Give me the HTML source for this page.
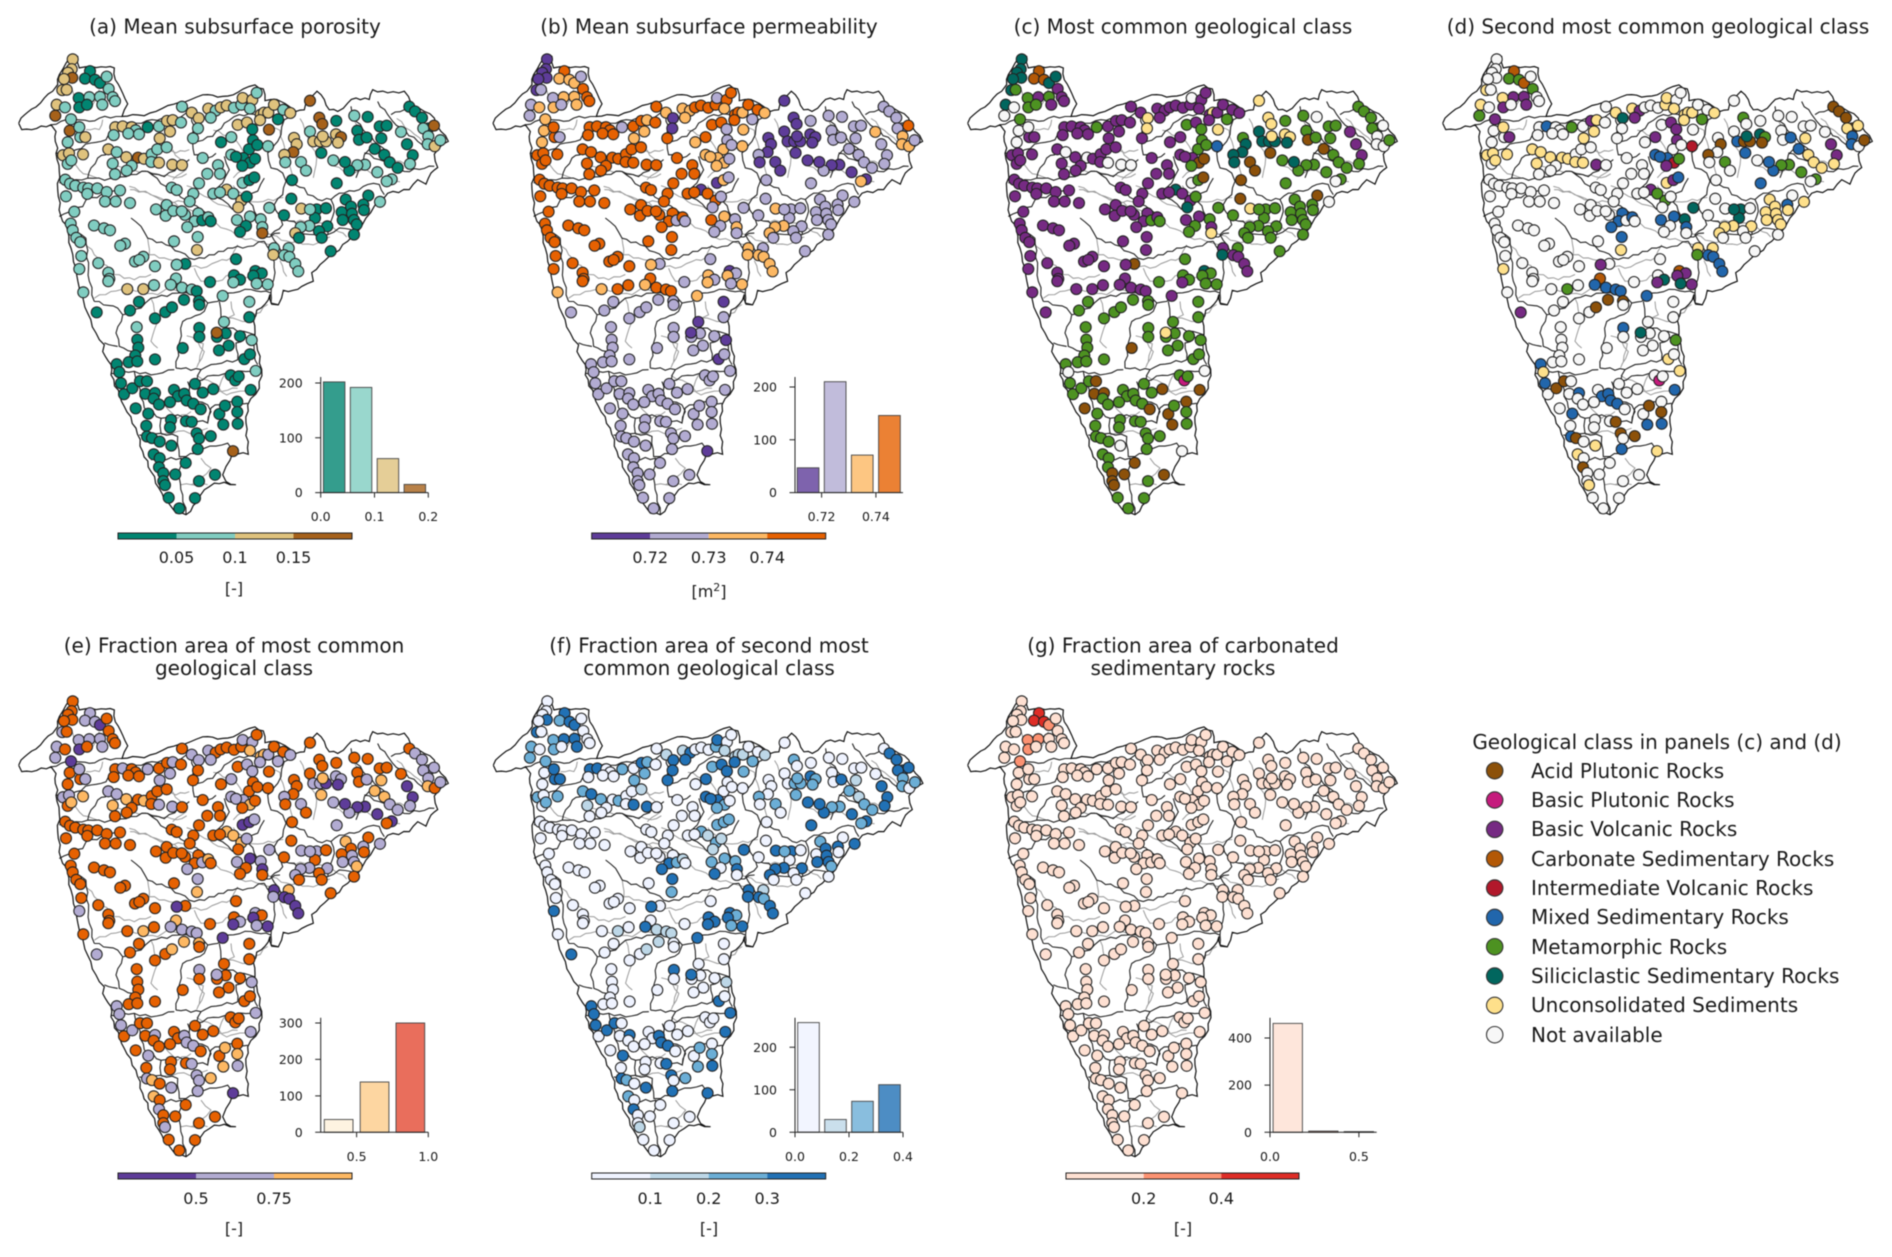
<!DOCTYPE html>
<html lang="en">
<head>
<meta charset="utf-8">
<title>Subsurface properties and geological classes of catchments</title>
<style>
html,body{margin:0;padding:0;background:#fff;}
svg{display:block;font-family:"DejaVu Sans","Liberation Sans",sans-serif;fill:#1a1a1a;filter:blur(0.4px);}
.title{font-size:20px;text-anchor:middle;}
.unit{font-size:16px;text-anchor:middle;}
.legend-text{font-size:20px;}
</style>
</head>
<body>
<svg id="figure" xmlns="http://www.w3.org/2000/svg" width="1892" height="1257" viewBox="0 0 1892 1257">
<rect x="0" y="0" width="1892" height="1257" fill="#ffffff"/>
<g id="panels"></g>
<text class="title" x="235" y="33.5">(a) Mean subsurface porosity</text>
<text class="title" x="709" y="33.5">(b) Mean subsurface permeability</text>
<text class="title" x="1183" y="33.5">(c) Most common geological class</text>
<text class="title" x="1658" y="33.5">(d) Second most common geological class</text>
<text class="title" x="234" y="652.5">(e) Fraction area of most common</text>
<text class="title" x="234" y="675">geological class</text>
<text class="title" x="709" y="652.5">(f) Fraction area of second most</text>
<text class="title" x="709" y="675">common geological class</text>
<text class="title" x="1183" y="652.5">(g) Fraction area of carbonated</text>
<text class="title" x="1183" y="675">sedimentary rocks</text>
<text class="unit" x="234" y="594">[-]</text>
<text class="unit" x="709" y="597">[m<tspan dy="-6" font-size="11">2</tspan><tspan dy="6">]</tspan></text>
<text class="unit" x="234" y="1234">[-]</text>
<text class="unit" x="709" y="1234">[-]</text>
<text class="unit" x="1183" y="1234">[-]</text>
<g>
<text class="legend-text" x="1657" y="749" text-anchor="middle">Geological class in panels (c) and (d)</text>
<text class="legend-text" x="1531" y="778">Acid Plutonic Rocks</text>
<text class="legend-text" x="1531" y="807">Basic Plutonic Rocks</text>
<text class="legend-text" x="1531" y="836">Basic Volcanic Rocks</text>
<text class="legend-text" x="1531" y="866">Carbonate Sedimentary Rocks</text>
<text class="legend-text" x="1531" y="895">Intermediate Volcanic Rocks</text>
<text class="legend-text" x="1531" y="924">Mixed Sedimentary Rocks</text>
<text class="legend-text" x="1531" y="954">Metamorphic Rocks</text>
<text class="legend-text" x="1531" y="983">Siliciclastic Sedimentary Rocks</text>
<text class="legend-text" x="1531" y="1012">Unconsolidated Sediments</text>
<text class="legend-text" x="1531" y="1042">Not available</text>
<circle cx="1494.7" cy="770.7" r="8.2" fill="#8c510a" stroke="#333" stroke-width="1.1"/>
<circle cx="1494.7" cy="800" r="8.2" fill="#c51b7d" stroke="#333" stroke-width="1.1"/>
<circle cx="1494.7" cy="829.4" r="8.2" fill="#762a83" stroke="#333" stroke-width="1.1"/>
<circle cx="1494.7" cy="858.7" r="8.2" fill="#b35806" stroke="#333" stroke-width="1.1"/>
<circle cx="1494.7" cy="888" r="8.2" fill="#b2182b" stroke="#333" stroke-width="1.1"/>
<circle cx="1494.7" cy="917.4" r="8.2" fill="#2166ac" stroke="#333" stroke-width="1.1"/>
<circle cx="1494.7" cy="946.7" r="8.2" fill="#4d9221" stroke="#333" stroke-width="1.1"/>
<circle cx="1494.7" cy="976" r="8.2" fill="#01665e" stroke="#333" stroke-width="1.1"/>
<circle cx="1494.7" cy="1005.4" r="8.2" fill="#fee08b" stroke="#333" stroke-width="1.1"/>
<circle cx="1494.7" cy="1034.7" r="8.2" fill="#f7f7f7" stroke="#333" stroke-width="1.1"/>
</g>
</svg>
<script>
// Station locations in map grid units (east, south)
const stationEast=[218,215,204,217,192,270,255,285,300,320,
326,187,200,236,268,300,338,345,170,195,
238,261,307,166,213,209,241,256,203,238,
189,207,249,203,214,346,368,395,407,385,
417,341,443,477,501,518,510,479,543,546,
575,596,594,579,625,647,632,662,680,702,
724,728,757,770,750,713,741,757,782,792,
805,780,822,850,871,834,807,759,747,772,
804,663,694,730,694,708,750,765,727,325,
350,338,379,414,395,380,345,432,455,472,
500,454,477,517,546,608,654,622,660,597,
680,640,660,700,724,715,740,728,748,763,
515,530,580,569,196,210,226,198,250,265,
262,292,320,360,315,347,390,223,212,218,
229,241,282,312,330,375,361,244,295,238,
325,328,325,250,382,430,405,430,418,465,
462,468,500,497,520,555,545,595,584,562,
607,625,632,593,522,591,711,750,738,720,
782,787,787,808,852,874,876,930,958,967,
1009,1063,1103,1072,1077,1100,1139,1160,1144,1203,
1124,1153,1221,1238,1169,1193,1230,1132,1095,1072,
1048,1035,1000,1010,1175,1160,1228,1245,1266,1285,
1302,1270,1285,1283,1304,1321,930,882,890,880,
853,856,903,918,940,960,978,968,964,1008,
1023,1014,904,950,945,978,930,1037,1105,1090,
1092,1140,1025,1053,1056,1028,1062,1070,1062,992,
982,957,965,928,902,886,897,822,866,820,
853,868,886,895,708,766,785,702,720,700,
760,770,803,630,556,530,528,512,546,575,
590,552,668,597,598,417,390,290,465,496,
516,748,748,672,410,412,415,406,386,412,
465,350,358,363,372,397,420,441,436,465,
461,477,407,445,439,441,456,479,514,522,
534,553,510,560,580,585,608,640,602,513,
510,558,575,590,597,593,632,658,675,712,
712,670,713,699,752,767,692,706,716,733,
750,755,720,686,657,677,651,650,598,598,
548,461,479,477,490,557,526,645,597,490,
495,506,585,538];
const stationSouth=[150,175,184,197,200,180,199,202,210,194,
225,228,227,248,246,245,246,256,265,272,
272,265,265,293,302,331,347,347,360,322,
393,388,391,415,406,322,320,322,330,338,
340,342,322,320,306,304,333,350,310,270,
285,299,325,350,275,280,298,272,267,273,
265,248,253,235,275,316,310,327,290,285,
285,304,265,278,286,302,328,355,378,367,
370,360,347,400,392,397,412,402,420,378,
385,414,398,399,420,432,441,402,390,378,
373,410,412,417,418,400,418,440,440,464,
480,490,487,490,508,525,498,463,456,449,
475,481,490,510,455,465,470,497,475,477,
491,477,486,482,510,510,514,536,566,583,
602,613,571,578,583,617,622,648,666,681,
690,706,712,740,732,732,662,650,658,674,
722,530,519,546,534,544,535,540,560,575,
558,550,560,600,611,633,557,548,572,587,
555,575,590,526,545,503,456,255,298,314,
306,293,296,331,354,348,320,318,350,334,
377,392,365,393,411,425,415,436,417,418,
432,410,406,464,454,459,270,282,298,325,
318,325,345,365,370,355,333,349,365,385,
392,411,410,432,358,358,358,345,387,340,
347,361,528,530,552,527,530,505,495,518,
532,511,537,523,541,557,557,568,594,636,
573,585,602,572,575,590,602,628,628,645,
646,650,668,687,656,686,692,697,708,715,
698,718,720,714,668,670,705,721,728,733,
737,759,749,762,772,764,786,791,806,790,
778,764,803,815,828,860,880,900,917,915,
910,922,942,970,998,983,965,965,997,995,
1009,1024,1034,1047,1078,1105,1109,1118,1128,987,
1003,997,1018,1014,1022,972,994,985,1036,1063,
1082,1066,1068,1097,1110,1137,1104,1048,1027,1017,
1043,1075,1073,1142,987,939,950,963,953,909,
897,861,851,875,887,844,853,842,830,853,
881,1150,1160,1183,1198,1172,1201,1202,1218,1218,
1228,1260,1261,1287];

// Colour-class index for each station, panel (a) to (g)
const porosityClass=[2,2,2,3,2,0,0,0,0,1,
1,2,2,0,1,1,1,1,2,1,
0,0,1,3,1,3,1,2,1,1,
2,2,2,1,1,2,2,2,1,1,
1,1,0,1,2,2,2,2,1,1,
2,2,1,1,2,1,1,2,2,1,
1,2,2,1,1,2,2,0,2,2,
2,2,2,1,2,0,3,0,0,0,
1,0,1,0,1,0,0,0,0,2,
1,1,2,3,1,1,1,2,1,1,
1,1,2,2,2,1,1,1,1,1,
2,1,1,1,2,2,0,1,0,0,
1,1,1,1,1,1,1,1,1,1,
1,1,1,1,1,1,1,1,1,1,
1,1,1,1,1,1,1,1,1,1,
1,1,1,1,2,2,1,1,1,1,
1,1,1,1,1,1,1,1,1,1,
0,1,0,1,1,2,1,1,0,0,
1,1,3,1,0,0,0,3,3,3,
0,1,0,0,0,0,0,0,0,1,
0,0,0,0,0,0,1,1,1,1,
0,0,1,0,1,1,0,0,0,0,
3,1,1,1,2,1,1,2,2,3,
2,1,1,1,2,2,2,2,0,2,
3,2,2,0,0,0,1,0,0,0,
0,1,0,0,0,0,0,0,0,0,
0,0,0,1,1,2,0,1,1,2,
1,1,1,1,0,0,0,0,0,1,
0,1,1,0,0,1,1,1,1,1,
0,0,1,0,0,0,0,0,0,0,
0,1,0,1,1,0,0,0,0,0,
0,0,0,0,0,0,0,0,0,0,
0,0,0,0,0,0,0,0,0,0,
0,0,0,0,0,0,0,0,0,0,
0,0,0,0,0,0,0,0,0,0,
0,0,0,3,0,1,0,0,0,0,
0,1,0,0,0,0,0,3,0,0,
0,0,0,0,0,0,0,0,0,0,
0,0,0,0];
const permeabilityClass=[0,0,0,0,0,3,2,2,2,1,
3,0,1,1,2,2,3,3,1,2,
2,1,2,1,2,2,3,1,2,3,
3,3,3,3,3,3,3,3,3,3,
3,3,1,3,3,2,2,2,3,3,
2,0,0,3,2,2,2,3,3,3,
3,1,3,3,2,3,3,1,3,3,
2,3,3,3,2,1,2,1,2,1,
2,2,3,2,2,2,2,1,2,3,
3,3,3,3,3,3,3,3,3,3,
3,3,3,3,3,3,3,3,3,3,
0,3,3,3,3,1,1,0,2,1,
3,3,3,3,3,3,3,3,3,3,
3,3,3,3,3,3,3,3,3,3,
3,3,3,3,3,3,3,3,3,3,
3,3,3,2,2,3,3,3,3,3,
3,3,3,3,3,3,3,3,3,3,
1,3,1,3,3,3,3,2,1,1,
1,2,1,1,1,1,1,0,0,0,
1,1,1,1,1,1,1,1,1,2,
1,1,1,1,1,1,1,0,0,0,
1,0,0,1,0,2,1,1,1,1,
3,1,2,2,2,1,0,0,0,0,
1,0,0,0,0,0,0,0,0,0,
0,0,2,1,1,1,1,1,1,1,
1,1,1,1,1,1,1,1,1,1,
1,1,1,2,2,2,1,2,1,2,
2,2,2,2,1,0,1,2,1,2,
2,1,2,1,1,2,3,2,3,3,
3,1,2,1,1,1,1,1,1,1,
1,0,1,0,1,1,1,1,1,1,
1,1,1,1,1,1,1,1,1,1,
1,1,1,1,1,1,1,1,1,1,
1,1,1,1,1,1,1,1,1,1,
1,1,1,1,1,1,1,1,1,1,
1,1,1,0,1,1,1,1,1,0,
1,0,1,1,1,1,1,0,1,1,
1,1,1,1,1,1,1,1,1,1,
1,1,1,1];
// Index into the legend: 0 acid plutonic, 1 basic plutonic, 2 basic volcanic, 3 carbonate,
// 4 intermediate volcanic, 5 mixed, 6 metamorphic, 7 siliciclastic, 8 unconsolidated, 9 not available
const mostCommonClass=[7,7,7,7,7,3,3,3,7,7,
2,7,6,6,2,6,2,2,7,9,
6,6,2,9,6,9,2,2,9,9,
2,2,2,2,2,2,2,2,2,2,
2,2,6,2,2,2,2,2,2,2,
2,8,8,2,2,2,2,2,2,2,
2,9,2,2,2,6,2,6,2,8,
2,2,2,2,2,6,8,6,6,6,
5,2,2,2,2,2,0,0,6,2,
9,2,2,9,2,2,2,2,2,2,
2,2,9,9,9,2,2,2,2,2,
7,2,2,2,2,7,6,9,6,0,
2,2,2,2,2,2,2,2,2,2,
2,2,2,2,2,2,2,2,2,2,
2,2,2,2,2,2,2,2,2,2,
2,2,2,2,2,2,2,2,2,2,
2,2,2,2,2,2,2,2,2,2,
6,2,6,2,2,2,2,2,6,6,
6,2,8,6,6,0,0,8,8,8,
6,6,9,6,0,6,6,6,6,2,
0,6,2,2,6,6,6,6,6,6,
6,7,6,6,6,9,6,6,6,6,
9,6,9,9,9,6,7,6,7,7,
7,7,0,0,7,7,7,8,0,8,
8,7,8,6,6,6,6,6,0,6,
6,9,6,6,6,6,6,6,6,6,
6,6,6,6,6,6,6,2,6,7,
2,2,2,2,6,7,6,6,6,2,
6,6,6,6,0,2,2,2,2,2,
2,6,2,6,6,6,6,2,6,6,
6,6,6,6,6,6,6,6,6,6,
6,6,9,6,6,6,6,0,0,0,
6,6,0,6,6,6,6,6,9,6,
6,6,6,6,6,6,6,0,0,6,
6,6,6,6,6,6,6,0,6,0,
6,0,6,9,0,9,6,1,6,6,
6,6,6,6,6,6,6,8,6,6,
0,6,6,6,0,0,0,0,6,0,
0,6,6,6];
const secondCommonClass=[9,9,9,9,9,3,6,6,3,9,
6,8,9,8,2,2,9,9,8,9,
2,9,2,6,2,9,9,2,9,8,
8,8,8,9,8,9,5,9,9,9,
9,9,6,9,2,8,8,8,9,9,
8,7,9,9,8,2,2,9,9,9,
8,8,9,9,8,9,2,2,8,8,
8,8,9,9,8,6,9,2,9,9,
4,9,2,5,5,5,4,6,2,8,
8,8,8,8,9,9,9,8,9,9,
9,8,8,2,9,9,9,9,9,9,
2,9,9,6,6,9,9,8,2,5,
9,9,9,9,9,9,9,9,9,9,
9,9,9,9,9,9,9,9,9,9,
9,9,9,9,9,9,9,9,9,8,
9,9,9,9,9,6,9,9,9,9,
9,9,9,9,9,9,9,5,5,5,
9,5,9,5,9,8,5,5,9,9,
7,5,9,7,9,9,9,9,6,9,
9,9,9,9,9,5,9,9,8,9,
5,8,2,2,8,8,8,6,6,6,
5,5,9,5,6,9,0,0,0,0,
8,8,5,5,9,0,9,9,0,9,
0,9,6,9,5,0,0,7,5,7,
6,0,9,7,7,9,7,8,9,5,
8,8,8,8,8,8,8,8,9,9,
8,9,9,8,8,8,9,8,8,6,
5,5,5,5,9,3,2,9,7,2,
2,7,2,9,9,2,3,5,5,5,
5,0,5,0,9,9,9,2,9,9,
0,9,9,9,9,9,9,9,9,9,
9,5,8,5,9,0,0,9,9,5,
9,9,9,5,9,5,0,9,8,9,
5,5,9,5,5,9,9,9,9,9,
9,9,0,0,9,5,0,9,0,9,
0,5,5,8,5,8,9,1,9,8,
9,6,9,9,9,9,9,7,5,9,
9,8,9,0,9,9,9,9,9,9,
8,9,9,9];
const fractionMostClass=[3,3,3,3,3,1,1,1,0,3,
3,1,3,1,1,1,3,3,1,3,
0,3,1,1,0,3,3,1,3,1,
1,1,2,3,2,3,1,3,3,3,
3,3,1,3,3,1,1,1,3,3,
1,1,3,3,1,3,1,3,3,3,
3,1,1,3,2,3,1,1,2,2,
1,1,3,3,1,1,3,3,3,3,
3,3,1,1,1,1,2,3,3,1,
1,2,2,3,3,3,3,2,3,3,
3,3,1,1,3,3,3,3,3,3,
2,3,3,2,2,3,1,0,0,1,
3,3,3,3,3,3,3,3,3,3,
3,3,3,3,3,3,3,3,3,3,
3,3,3,3,3,3,3,3,3,1,
3,3,3,3,3,2,3,3,3,3,
3,3,3,3,3,3,3,3,3,1,
1,2,3,1,3,2,1,0,3,3,
1,0,3,1,3,3,3,3,3,3,
3,3,3,3,3,1,3,3,2,3,
2,2,0,0,1,1,1,0,0,0,
1,0,1,1,0,3,3,1,1,1,
1,1,1,2,3,1,3,3,3,3,
1,3,1,3,1,1,0,2,2,1,
1,0,1,1,3,3,1,2,3,1,
3,1,3,3,1,1,1,2,3,3,
1,3,3,1,1,1,3,0,2,1,
0,0,0,0,3,1,3,3,1,0,
0,1,0,3,3,0,2,1,1,1,
1,2,0,2,3,3,3,1,3,3,
2,3,3,3,3,3,3,3,3,3,
3,1,1,1,3,1,3,3,3,1,
3,3,3,1,3,1,2,3,1,3,
3,1,3,1,1,3,3,3,3,3,
3,3,1,1,1,1,2,3,2,3,
2,2,1,0,1,1,3,3,3,3,
3,1,3,3,3,3,3,1,1,3,
3,2,3,1,3,3,3,3,3,3,
1,3,3,3];
const fractionSecondClass=[0,0,0,3,0,3,2,3,3,0,
0,3,0,2,3,3,0,0,2,0,
2,0,3,2,2,0,3,3,0,3,
2,0,2,0,2,3,3,0,0,0,
0,0,2,0,3,2,2,2,0,0,
1,3,3,3,1,3,3,0,0,0,
2,3,0,0,1,2,3,3,1,1,
1,3,0,0,1,2,2,0,0,0,
0,0,3,3,3,3,2,0,2,2,
3,1,2,0,0,0,0,2,0,0,
1,0,3,3,0,0,0,0,0,0,
2,0,0,1,2,1,1,2,2,2,
0,0,0,0,0,0,0,0,0,0,
0,0,0,0,0,0,0,0,0,0,
0,0,0,0,0,0,0,0,0,3,
0,0,0,0,0,1,0,0,0,0,
0,0,0,0,0,0,0,0,3,3,
2,1,0,3,0,2,2,2,0,3,
2,3,0,3,0,0,0,0,2,0,
0,0,0,0,0,3,0,0,1,0,
2,1,3,3,2,2,3,3,2,2,
3,3,3,3,3,2,0,3,3,3,
3,3,2,2,0,2,0,0,0,0,
2,0,2,0,0,2,2,2,2,3,
2,2,3,3,0,0,2,2,0,3,
0,3,0,3,3,3,3,2,0,0,
3,0,0,3,3,3,0,3,1,3,
3,2,3,3,0,3,2,3,3,3,
3,2,3,0,0,3,0,3,1,1,
1,1,3,0,0,0,0,3,0,0,
1,0,0,0,0,0,0,0,0,0,
0,3,3,3,0,3,3,0,0,3,
0,0,0,3,0,3,2,0,3,0,
0,3,0,3,3,0,0,0,0,0,
0,0,3,3,0,3,2,0,2,0,
2,2,3,3,3,3,0,0,0,3,
0,1,0,0,0,0,0,3,3,0,
0,2,0,3,0,0,0,0,0,0,
1,0,0,0];
const fractionCarbonatedClass=[0,0,0,0,0,2,2,2,1,0,
0,0,0,1,1,0,0,0,0,0,
1,0,0,0,1,0,0,0,0,0,
0,0,0,0,0,0,0,0,0,0,
0,0,0,0,0,0,0,0,0,0,
0,0,0,0,0,0,0,0,0,0,
0,0,0,0,0,0,0,0,0,0,
0,0,0,0,0,0,0,0,0,0,
0,0,0,0,0,0,0,0,0,0,
0,0,0,0,0,0,0,0,0,0,
0,0,0,0,0,0,0,0,0,0,
0,0,0,0,0,0,0,0,0,0,
0,0,0,0,0,0,0,0,0,0,
0,0,0,0,0,0,0,0,0,0,
0,0,0,0,0,0,0,0,0,0,
0,0,0,0,0,0,0,0,0,0,
0,0,0,0,0,0,0,0,0,0,
0,0,0,0,0,0,0,0,0,0,
0,0,0,0,0,0,0,0,0,0,
0,0,0,0,0,0,0,0,0,0,
0,0,0,0,0,0,0,0,0,0,
0,0,0,0,0,0,0,0,0,0,
0,0,0,0,0,0,0,0,0,0,
0,0,0,0,0,0,0,0,0,0,
0,0,0,0,0,0,0,0,0,0,
0,0,0,0,0,0,0,0,0,0,
0,0,0,0,0,0,0,0,0,0,
0,0,0,0,0,0,0,0,0,0,
0,0,0,0,0,0,0,0,0,0,
0,0,0,0,0,0,0,0,0,0,
0,0,0,0,0,0,0,0,0,0,
0,0,0,0,0,0,0,0,0,0,
0,0,0,0,0,0,0,0,0,0,
0,0,0,0,0,0,0,0,0,0,
0,0,0,0,0,0,0,0,0,0,
0,0,0,0,0,0,0,0,0,0,
0,0,0,0,0,0,0,0,0,0,
0,0,0,0,0,0,0,0,0,0,
0,0,0,0];

// Histogram insets: bin centres and counts
const porosityBins=[0.025,0.075,0.125,0.175];
const porosityCounts=[202,192,62,15];
const permeabilityBins=[0.715,0.725,0.735,0.745];
const permeabilityCounts=[47,210,71,146];
const fractionMostBins=[0.375,0.625,0.875];
const fractionMostCounts=[35,138,300];
const fractionSecondBins=[0.05,0.15,0.25,0.35];
const fractionSecondCounts=[258,30,73,112];
const fractionCarbonatedBins=[0.1,0.3,0.5];
const fractionCarbonatedCounts=[462,5,3];

// Colour bar and inset tick labels
const porosityBarTicks=["0.05","0.1","0.15"];
const permeabilityBarTicks=["0.72","0.73","0.74"];
const fractionMostBarTicks=["0.5","0.75"];
const fractionSecondBarTicks=["0.1","0.2","0.3"];
const fractionCarbonatedBarTicks=["0.2","0.4"];

// Map geometry in map grid units
const coastline=[[56,312],[63,299],[83,284],[108,271],[133,248],[158,231],[173,214],[178,189],[198,160],[213,139],[233,143],[238,172],[273,168],[318,170],[343,172],[346,202],[368,236],[383,263],[366,295],[398,290],[433,293],[468,282],[488,274],[538,259],[573,252],[608,240],[668,244],[700,240],[730,225],[765,215],[790,225],[795,255],[830,252],[855,262],[888,282],[913,278],[918,252],[951,231],[973,252],[988,278],[1013,282],[1043,261],[1068,248],[1108,252],[1118,227],[1163,235],[1213,231],[1233,261],[1273,282],[1303,299],[1323,333],[1345,358],[1313,379],[1303,390],[1313,424],[1293,438],[1278,466],[1253,455],[1228,480],[1163,489],[1123,522],[1098,552],[1073,586],[1043,611],[1003,641],[960,670],[935,690],[940,712],[905,725],[880,735],[850,735],[835,772],[815,770],[810,745],[795,770],[770,785],[760,810],[765,840],[770,870],[785,935],[778,983],[743,1025],[738,1071],[745,1150],[698,1147],[678,1181],[668,1202],[678,1219],[708,1227],[673,1221],[643,1223],[613,1240],[593,1270],[558,1303],[528,1299],[513,1282],[493,1265],[453,1194],[428,1143],[408,1084],[373,1029],[333,949],[333,923],[308,890],[313,873],[288,843],[263,793],[238,729],[228,679],[213,628],[198,569],[183,548],[173,480],[178,434],[168,388],[173,375],[166,358],[168,333],[153,316],[110,325],[65,328],[56,312]];
const basinLines=[
[[153,316],[183,307],[228,303],[268,307],[298,299],[348,295],[366,295]],
[[168,388],[228,379],[273,362],[318,354],[353,312],[408,312],[488,299],[538,299],[573,274]],
[[568,278],[583,320],[578,362],[583,392],[623,400],[648,388]],
[[178,463],[228,455],[263,451],[273,425],[293,400],[318,392]],
[[263,451],[348,455],[393,442],[443,434],[493,447],[568,404]],
[[443,434],[498,472],[558,506],[618,539]],
[[178,548],[248,523],[258,506],[323,489],[378,480]],
[[578,362],[638,345],[673,312],[718,290],[790,290],[853,303]],
[[673,396],[688,430],[668,463],[638,489],[668,506],[698,531]],
[[888,282],[853,303],[843,341],[833,358],[803,387],[813,425],[848,438],[858,459],[913,476],[923,493],[953,505],[993,505],[1018,489],[1063,484],[1103,467],[1138,467],[1153,493]],
[[1068,450],[1093,392],[1118,370]],
[[1093,387],[1213,434],[1303,421]],
[[1053,269],[1068,307],[1123,358],[1163,387]],
[[1133,257],[1163,290],[1178,307],[1253,358],[1303,379]],
[[1173,290],[1213,278],[1233,261]],
[[793,451],[773,484],[743,497],[763,535],[793,600],[840,590]],
[[858,459],[848,493],[823,518],[848,569],[813,594],[843,636]],
[[853,556],[883,560],[903,590],[943,594],[983,594],[1018,577],[1053,581]],
[[993,505],[1003,535],[993,560],[983,594]],
[[393,552],[423,573],[443,603],[498,620],[583,657],[643,645],[683,628],[743,624],[793,611]],
[[283,763],[353,780],[368,797],[423,780],[453,755],[533,742],[583,742],[623,767],[653,763],[683,742],[753,733],[813,742],[813,767],[833,771]],
[[258,603],[268,712],[283,763]],
[[813,742],[825,690],[818,650],[793,611]],
[[198,569],[258,603]],
[[623,767],[613,788],[573,805],[548,814],[538,868],[528,932]],
[[658,763],[663,801],[658,818],[683,830],[763,847]],
[[763,847],[763,898],[773,923]],
[[368,797],[348,843],[358,877],[398,890]],
[[313,868],[353,877]],
[[528,932],[603,936],[633,923],[713,911],[708,868],[763,847]],
[[333,945],[403,940],[453,949],[523,936]],
[[603,936],[590,965],[640,950],[785,935]],
[[433,1033],[483,1059],[483,1097],[533,1105],[538,1156],[558,1156],[613,1135],[683,1122],[698,1147]],
[[418,1101],[483,1097]],
[[453,1164],[543,1160],[538,1210],[548,1253],[558,1303]],
[[623,1071],[633,1033],[673,1016],[743,1021]],
[[563,966],[573,1008],[623,1025],[633,1042],[623,1071],[533,1050],[483,1059]],
[[403,940],[433,1033]]
];
const riverLines=[
[[253,611],[283,645],[343,695],[403,708],[453,695]],
[[443,603],[448,645],[493,653],[553,670],[603,679],[653,662],[693,653],[713,620]],
[[283,755],[333,738],[393,733],[473,746],[503,729],[583,746]],
[[453,755],[473,814],[453,864],[473,881]],
[[583,679],[603,712],[653,712],[693,695],[733,704],[803,695]],
[[693,763],[703,797],[683,805],[743,814],[803,771]],
[[593,864],[613,890],[593,923]],
[[603,1160],[633,1185],[603,1210],[573,1227]],
[[543,1227],[623,1227]],
[[483,1101],[533,1092],[588,1097],[623,1084]],
[[673,949],[653,991],[713,983]],
[[493,1025],[533,1059],[573,1042]],
[[208,219],[243,269],[278,265],[298,227]],
[[258,328],[298,328],[308,303]],
[[498,371],[528,387],[568,379]],
[[388,472],[468,497],[518,514],[568,506]],
[[518,379],[558,430],[518,455]],
[[390,480],[430,485],[470,500],[510,510],[550,525],[590,540],[630,560],[680,580],[720,600],[770,610],[820,620],[850,640],[890,690]],
[[560,850],[610,870],[600,900],[590,930]],
[[590,950],[640,970],[680,1000],[720,990],[760,980]],
[[220,410],[250,440],[290,450]],
[[350,420],[400,430],[470,440],[530,450],[560,440]],
[[640,330],[700,350],[740,390],[730,430],[700,450]],
[[800,320],[840,330],[860,400],[880,450]],
[[900,300],[920,340],[950,400],[940,450]],
[[1000,420],[1050,440],[1100,430],[1150,450],[1200,460]],
[[1060,300],[1090,340],[1130,370],[1170,400],[1230,420]],
[[1190,300],[1230,330],[1270,360],[1300,380]],
[[870,560],[930,560],[990,570],[1040,600]],
[[800,590],[860,610],[940,620],[990,600]],
[[700,470],[740,510],[790,510],[850,500]],
[[560,470],[600,490],[640,510],[700,530]],
[[840,660],[860,700]]
];

// Palettes
const brownTeal=["#018571","#80cdc1","#dfc27d","#a6611a"];
const purpleOrange=["#5e3c99","#b2abd2","#fdb863","#e66101"];
const geologyColours=["#8c510a","#c51b7d","#762a83","#b35806","#b2182b","#2166ac","#4d9221","#01665e","#fee08b","#f7f7f7"];
const blues=["#eff3ff","#bdd7e7","#6baed6","#2171b5"];
const reds=["#fee0d2","#fc9272","#de2d26"];

const SVG_NS="http://www.w3.org/2000/svg";
const root=document.getElementById("panels");
function make(tag,parent){
  const el=document.createElementNS(SVG_NS,tag);
  parent.appendChild(el);
  return el;
}
function linear(d0,d1,r0,r1){return v=>r0+(v-d0)*(r1-r0)/(d1-d0);}
function pick(colours,i){return colours[Math.max(0,Math.min(colours.length-1,Math.round(i)))];}

// Adds small cartographic jaggedness to boundary polylines (geometry only, markers are untouched)
function jagged(pts){
  const out=[pts[0]];
  for(let i=1;i<pts.length;i++){
    const a=pts[i-1],b=pts[i];
    const len=Math.hypot(b[0]-a[0],b[1]-a[1]);
    const n=Math.max(1,Math.round(len/16));
    for(let k=1;k<=n;k++){
      const t=k/n;
      const amp=k===n?0:3.2*Math.sin(k*2.39+i*1.31+a[0]*0.07);
      out.push([a[0]+(b[0]-a[0])*t-(b[1]-a[1])/len*amp,a[1]+(b[1]-a[1])*t+(b[0]-a[0])/len*amp]);
    }
  }
  return out;
}
const coastlineFine=jagged(coastline);
const basinsFine=basinLines.map(jagged);
const riversFine=riverLines.map(jagged);

function drawMap(g,key,ox,oy,classes,colours){
  const mx=e=>ox+e/3;
  const my=s=>oy+s*0.395;
  const toPath=(pts)=>pts.map((p,i)=>(i?"L":"M")+mx(p[0]).toFixed(1)+" "+my(p[1]).toFixed(1)).join("");
  const rivers=make("path",g);
  
  
  rivers.setAttribute("d",riversFine.map(toPath).join(""));
  rivers.setAttribute("fill","none");
  rivers.setAttribute("stroke","#9a9a9a");
  rivers.setAttribute("stroke-width","1");
  const basins=make("path",g);
  
  
  basins.setAttribute("d",basinsFine.map(toPath).join(""));
  basins.setAttribute("fill","none");
  basins.setAttribute("stroke","#222");
  basins.setAttribute("stroke-width","1.1");
  const coast=make("path",g);
  
  
  coast.setAttribute("d",toPath(coastlineFine));
  coast.setAttribute("fill","none");
  coast.setAttribute("stroke","#111");
  coast.setAttribute("stroke-width","1.2");
  stationEast.forEach((e,i)=>{
    const c=make("circle",g);
    
    
    c.setAttribute("cx",mx(e).toFixed(1));
    c.setAttribute("cy",my(stationSouth[i]).toFixed(1));
    c.setAttribute("r","5.5");
    c.setAttribute("fill",pick(colours,classes[i]));
    c.setAttribute("stroke","#222");
    c.setAttribute("stroke-width","1.05");
  });
}

function drawColourBar(g,key,x0,x1,y0,y1,colours,ticks,tickValues,domain,labelY){
  const sx=linear(domain[0],domain[1],x0,x1);
  const w=(x1-x0)/colours.length;
  colours.forEach((col,i)=>{
    const s=make("rect",g);
    
    
    s.setAttribute("x",(x0+i*w).toFixed(1));
    s.setAttribute("y",y0);
    s.setAttribute("width",w.toFixed(1));
    s.setAttribute("height",y1-y0);
    s.setAttribute("fill",col);
  });
  const frame=make("rect",g);
  
  
  frame.setAttribute("x",x0);
  frame.setAttribute("y",y0);
  frame.setAttribute("width",x1-x0);
  frame.setAttribute("height",y1-y0);
  frame.setAttribute("fill","none");
  frame.setAttribute("stroke","#222");
  frame.setAttribute("stroke-width","1");
  ticks.forEach((label,i)=>{
    const t=make("text",g);
    
    
    t.setAttribute("x",sx(tickValues[i]).toFixed(1));
    t.setAttribute("y",labelY);
    t.setAttribute("font-size","16");
    t.setAttribute("text-anchor","middle");
    t.textContent=label;
  });
}

function drawHistogram(g,key,h){
  const sx=linear(h.xDomain[0],h.xDomain[1],h.left,h.right);
  const sy=linear(0,h.yRef,h.base,h.yRefPx);
  h.bins.forEach((c,i)=>{
    const b=make("rect",g);
    
    
    b.setAttribute("x",sx(c-h.barWidth/2).toFixed(1));
    b.setAttribute("width",(sx(c+h.barWidth/2)-sx(c-h.barWidth/2)).toFixed(1));
    b.setAttribute("y",sy(h.counts[i]).toFixed(1));
    b.setAttribute("height",(h.base-sy(h.counts[i])).toFixed(1));
    b.setAttribute("fill",h.colours[i]);
    b.setAttribute("fill-opacity","0.8");
    b.setAttribute("stroke","#444");
    b.setAttribute("stroke-width","0.9");
  });
  const spine=make("path",g);
  
  
  let d="M"+h.left+" "+h.top+"V"+h.base+"H"+h.right;
  h.yTicks.forEach(v=>{d+="M"+(h.left-5.5)+" "+sy(v).toFixed(1)+"H"+h.left;});
  h.xTicks.forEach(v=>{d+="M"+sx(v).toFixed(1)+" "+h.base+"v5";});
  spine.setAttribute("d",d);
  spine.setAttribute("fill","none");
  spine.setAttribute("stroke","#222");
  spine.setAttribute("stroke-width","1");
  h.yTicks.forEach(v=>{
    const t=make("text",g);
    
    
    t.setAttribute("x",h.left-18);
    t.setAttribute("y",(sy(v)+4.5).toFixed(1));
    t.setAttribute("font-size","12.5");
    t.setAttribute("text-anchor","end");
    t.textContent=String(v);
  });
  h.xTicks.forEach((v,i)=>{
    const t=make("text",g);
    
    
    t.setAttribute("x",sx(v).toFixed(1));
    t.setAttribute("y",h.base+28.5);
    t.setAttribute("font-size","12.5");
    t.setAttribute("text-anchor","middle");
    t.textContent=h.xLabels[i];
  });
}

function panelGroup(key){
  const g=make("g",root);
  
  
  return g;
}

const ga=panelGroup("panel-a");
drawMap(ga,"panel-a",0,0,porosityClass,brownTeal);
drawColourBar(ga,"panel-a",118,352,533,539,brownTeal,porosityBarTicks,[0.05,0.1,0.15],[0,0.2],563);
drawHistogram(ga,"panel-a",{left:320.7,right:428.3,top:377,base:492.6,xDomain:[0,0.2],yRef:200,yRefPx:383,bins:porosityBins,counts:porosityCounts,barWidth:0.04,colours:brownTeal,yTicks:[0,100,200],xTicks:[0,0.1,0.2],xLabels:["0.0","0.1","0.2"]});

const gb=panelGroup("panel-b");
drawMap(gb,"panel-b",474.3,0,permeabilityClass,purpleOrange);
drawColourBar(gb,"panel-b",591.7,825.7,533,539,purpleOrange,permeabilityBarTicks,[0.72,0.73,0.74],[0.71,0.75],563);
drawHistogram(gb,"panel-b",{left:795,right:903,top:377,base:492.6,xDomain:[0.7102,0.75],yRef:200,yRefPx:387,bins:permeabilityBins,counts:permeabilityCounts,barWidth:0.008,colours:purpleOrange,yTicks:[0,100,200],xTicks:[0.72,0.74],xLabels:["0.72","0.74"]});

const gc=panelGroup("panel-c");
drawMap(gc,"panel-c",949,0,mostCommonClass,geologyColours);

const gd=panelGroup("panel-d");
drawMap(gd,"panel-d",1424,0,secondCommonClass,geologyColours);

const ge=panelGroup("panel-e");
drawMap(ge,"panel-e",0,642,fractionMostClass,purpleOrange);
drawColourBar(ge,"panel-e",118,352,1173,1179,purpleOrange.slice(0,3),fractionMostBarTicks,[0.5,0.75],[0.25,1],1204);
drawHistogram(ge,"panel-e",{left:320.7,right:428.3,top:1017.7,base:1132.3,xDomain:[0.25,1],yRef:300,yRefPx:1023,bins:fractionMostBins,counts:fractionMostCounts,barWidth:0.2,colours:["#fef0d9","#fdcc8a","#e34a33"],yTicks:[0,100,200,300],xTicks:[0.5,1],xLabels:["0.5","1.0"]});

const gf=panelGroup("panel-f");
drawMap(gf,"panel-f",474.6,642,fractionSecondClass,blues);
drawColourBar(gf,"panel-f",591.7,825.7,1173,1179,blues,fractionSecondBarTicks,[0.1,0.2,0.3],[0,0.4],1204);
drawHistogram(gf,"panel-f",{left:795,right:903,top:1017.7,base:1132.3,xDomain:[0,0.4],yRef:200,yRefPx:1047.3,bins:fractionSecondBins,counts:fractionSecondCounts,barWidth:0.08,colours:blues,yTicks:[0,100,200],xTicks:[0,0.2,0.4],xLabels:["0.0","0.2","0.4"]});

const gg=panelGroup("panel-g");
drawMap(gg,"panel-g",949,642,fractionCarbonatedClass,reds);
drawColourBar(gg,"panel-g",1066,1299,1173,1179,reds,fractionCarbonatedBarTicks,[0.2,0.4],[0,0.6],1204);
drawHistogram(gg,"panel-g",{left:1270,right:1376.7,top:1017.7,base:1132.3,xDomain:[0,0.6],yRef:400,yRefPx:1038,bins:fractionCarbonatedBins,counts:fractionCarbonatedCounts,barWidth:0.165,colours:reds,yTicks:[0,200,400],xTicks:[0,0.5],xLabels:["0.0","0.5"]});
</script>
</body>
</html>
